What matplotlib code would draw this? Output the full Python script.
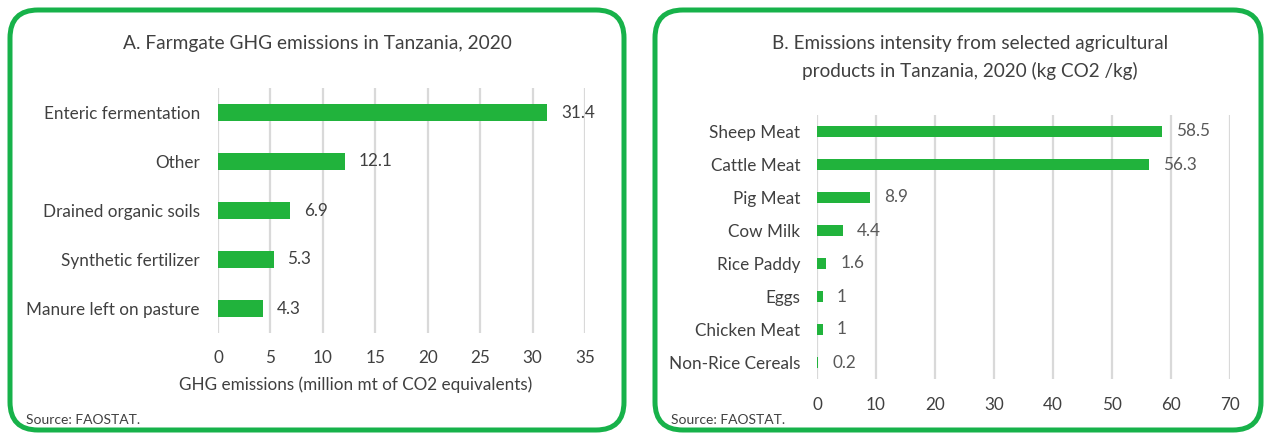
import matplotlib
matplotlib.use("Agg")
import matplotlib.pyplot as plt
from matplotlib.patches import FancyBboxPatch

plt.rcParams['font.family'] = ['Lato', 'DejaVu Sans']

# Panel A: farmgate emissions by source (million mt CO2eq)
sources = ["Enteric fermentation", "Other", "Drained organic soils",
           "Synthetic fertilizer", "Manure left on pasture"]
source_vals = [31.4, 12.1, 6.9, 5.3, 4.3]

# Panel B: emissions intensity by product (kg CO2 / kg)
products = ["Sheep Meat", "Cattle Meat", "Pig Meat", "Cow Milk", "Rice Paddy",
            "Eggs", "Chicken Meat", "Non-Rice Cereals"]
product_vals = [58.5, 56.3, 8.9, 4.4, 1.6, 1, 1, 0.2]
product_labels = ["58.5", "56.3", "8.9", "4.4", "1.6", "1", "1", "0.2"]

W, H = 1264, 433
BAR = "#21b33c"
EDGE = "#17b24a"
TXT = "#404040"
GRID = "#d9d9d9"
FS = 12.3

fig = plt.figure(figsize=(W / 100, H / 100), dpi=100)

# pixel-space overlay for frames, titles and notes
bg = fig.add_axes([0, 0, 1, 1])
bg.set_xlim(0, W)
bg.set_ylim(H, 0)
bg.axis("off")
for x0, x1 in [(10, 624), (655, 1261)]:
    bg.add_patch(FancyBboxPatch((x0, 10), x1 - x0, 420,
                                boxstyle="round,pad=0,rounding_size=28",
                                fill=False, ec=EDGE, lw=3.6))

bg.text(317, 44, "A. Farmgate GHG emissions in Tanzania, 2020",
        ha="center", va="center", fontsize=13.8, color=TXT)
bg.text(970, 44, "B. Emissions intensity from selected agricultural",
        ha="center", va="center", fontsize=13.6, color=TXT)
bg.text(970, 71, "products in Tanzania, 2020 (kg CO2 /kg)",
        ha="center", va="center", fontsize=13.6, color=TXT)
bg.text(356, 385, "GHG emissions (million mt of CO2 equivalents)",
        ha="center", va="center", fontsize=FS, color=TXT)
bg.text(26, 420, "Source: FAOSTAT.", ha="left", va="center", fontsize=10, color=TXT)
bg.text(671, 420, "Source: FAOSTAT.", ha="left", va="center", fontsize=10, color=TXT)


def px_axes(left, top, right, bottom):
    return fig.add_axes([left / W, 1 - bottom / H, (right - left) / W, (bottom - top) / H])


def style(ax, n, xmax, step, xpad, ypad):
    ax.set_xlim(0, xmax)
    ax.set_xticks(range(0, xmax + 1, step))
    ax.set_ylim(n - 0.5, -0.5)
    ax.grid(axis="x", color=GRID, lw=1.6)
    ax.set_axisbelow(True)
    for s in ax.spines.values():
        s.set_visible(False)
    ax.tick_params(length=0, colors=TXT, labelsize=FS)
    ax.tick_params(axis="x", pad=xpad)
    ax.tick_params(axis="y", pad=ypad)
    ax.patch.set_alpha(0)


axA = px_axes(218, 88, 585, 333)
axA.barh(range(len(sources)), source_vals, height=0.35, color=BAR)
axA.set_yticks(range(len(sources)), sources)
style(axA, len(sources), 35, 5, 12, 13)
for i, v in enumerate(source_vals):
    axA.text(v + 1.3, i, f"{v}", va="center", ha="left", fontsize=FS, color=TXT)

axB = px_axes(817, 115, 1230, 379)
axB.barh(range(len(products)), product_vals, height=0.36, color=BAR)
axB.set_yticks(range(len(products)), products)
style(axB, len(products), 70, 10, 13, 12)
for i, v in enumerate(product_vals):
    axB.text(v + 2.4, i, product_labels[i], va="center", ha="left", fontsize=FS,
             color="#595959")

fig.savefig("out.png", dpi=100)
